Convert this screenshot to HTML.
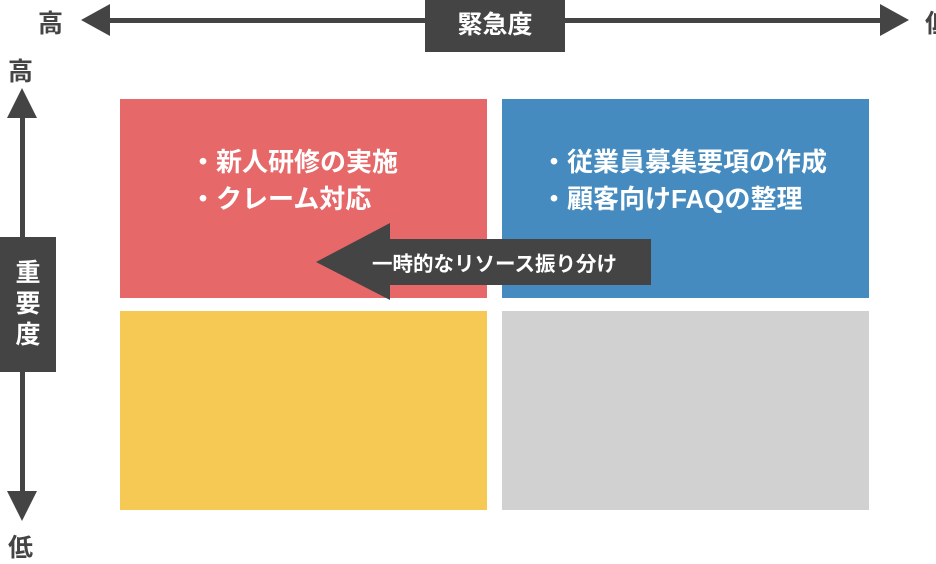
<!DOCTYPE html>
<html><head><meta charset="utf-8"><style>
body{margin:0;width:936px;height:544px;overflow:hidden;background:#fff;font-family:"Liberation Sans","Noto Sans CJK JP",sans-serif;position:relative}
.a{position:absolute}
.q{position:absolute;color:#fff;font-size:26px;font-weight:bold;line-height:37px}
</style></head><body>
<svg class="a" style="left:0;top:0" width="936" height="544">
<rect x="100" y="18" width="790" height="5" fill="#444"/>
<polygon points="81,20 110,4 110,36" fill="#444"/>
<polygon points="909,20 880,4 880,36" fill="#444"/>
<rect x="20" y="110" width="5" height="390" fill="#444"/>
<polygon points="22,88 7,118 37,118" fill="#444"/>
<polygon points="22,521 7,491 37,491" fill="#444"/>
<rect x="120" y="99" width="367" height="199" fill="#e66868"/>
<rect x="502" y="99" width="367" height="199" fill="#458bbf"/>
<rect x="120" y="311" width="367" height="199" fill="#f6c854"/>
<rect x="502" y="311" width="367" height="199" fill="#d1d1d1"/>
<polygon points="316,262 390,223 390,239 651,239 651,285 390,285 390,300" fill="#444"/>
<rect x="425" y="0" width="140" height="52" fill="#444"/>
<rect x="0" y="237" width="56" height="135" fill="#444"/>
</svg>
<div class="a" style="left:425px;top:5px;width:140px;text-align:center;color:#fff;font-size:25px;font-weight:bold">緊急度</div>
<div class="a" style="left:0;top:258px;width:56px;text-align:center;color:#fff;font-size:25px;font-weight:bold;line-height:31px">重<br>要<br>度</div>
<div class="a" style="left:38px;top:4px;color:#444;font-size:25px;font-weight:bold">高</div>
<div class="a" style="left:925px;top:4px;color:#444;font-size:25px;font-weight:bold">低</div>
<div class="a" style="left:8px;top:52px;color:#444;font-size:25px;font-weight:bold">高</div>
<div class="a" style="left:8px;top:528px;color:#444;font-size:25px;font-weight:bold">低</div>
<div class="q" style="left:190px;top:144px">・新人研修の実施<br>・クレーム対応</div>
<div class="q" style="left:541px;top:144px">・従業員募集要項の作成<br>・顧客向けFAQの整理</div>
<div class="a" style="left:372px;top:247px;color:#fff;font-size:20.5px;font-weight:bold">一時的なリソース振り分け</div>
</body></html>
